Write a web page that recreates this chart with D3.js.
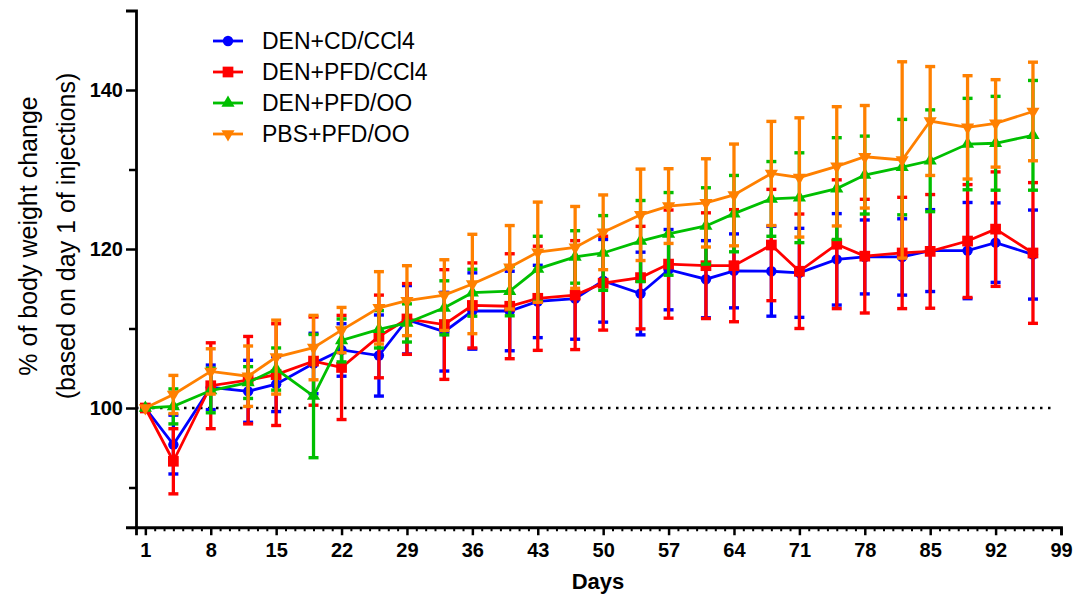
<!DOCTYPE html>
<html>
<head>
<meta charset="utf-8">
<script src="https://cdn.jsdelivr.net/npm/d3@7"></script>
<style>
  body { margin: 0; background: #fff; }
  svg { display: block; font-family: Arial, "Liberation Sans", sans-serif; }
</style>
</head>
<body>
<div id="chart"></div>
<script>
// days of measurement
const days = [1, 4, 8, 12, 15, 19, 22, 26, 29, 33, 36, 40, 43, 47, 50, 54, 57, 61, 64, 68, 71, 75, 78, 82, 85, 89, 92, 96];

const seriesNames = ["DEN+CD/CCl4", "DEN+PFD/CCl4", "DEN+PFD/OO", "PBS+PFD/OO"];
const seriesColors = ["#0000ff", "#ff0000", "#00bf00", "#ff8000"];

// mean % body weight and SD
const cdCclMean = [100, 95.4, 102.6, 102.1, 103.0, 105.6, 107.3, 106.6, 111.1, 109.6, 112.2, 112.2, 113.4, 113.75, 116.0, 114.4, 117.4, 116.2, 117.25, 117.2, 117.0, 118.7, 119.0, 119.0, 119.8, 119.8, 120.8, 119.3];
const cdCclSd   = [0, 3.7, 2.8, 3.9, 3.45, 3.8, 3.3, 5.1, 4.3, 4.95, 4.8, 5.0, 4.55, 5.1, 5.2, 5.2, 5.05, 4.85, 4.65, 5.65, 5.6, 5.75, 4.65, 4.8, 5.15, 6.05, 5.0, 5.6];

const pfdCclMean = [100, 93.3, 102.8, 103.5, 104.2, 105.9, 105.1, 109.0, 111.2, 110.5, 112.9, 112.8, 113.8, 114.2, 115.7, 116.4, 118.1, 117.9, 117.9, 120.5, 117.2, 120.6, 119.1, 119.5, 119.7, 121.0, 122.5, 119.5];
const pfdCclSd   = [0, 4.1, 5.4, 5.5, 6.4, 5.55, 6.55, 5.2, 4.45, 6.9, 5.35, 6.6, 6.55, 6.85, 5.9, 6.45, 6.8, 6.65, 7.05, 7.0, 7.2, 8.1, 7.15, 7.0, 7.15, 7.1, 7.2, 8.85];

const pfdOoMean = [100, 100.2, 102.2, 103.2, 104.9, 101.5, 108.5, 109.9, 110.7, 112.6, 114.5, 114.7, 117.5, 119.0, 119.5, 121.0, 121.9, 122.9, 124.45, 126.3, 126.45, 127.6, 129.3, 130.3, 131.1, 133.2, 133.3, 134.3];
const pfdOoSd   = [0, 2.2, 2.8, 2.0, 2.65, 7.75, 2.7, 2.35, 2.4, 3.4, 2.95, 3.1, 4.1, 3.3, 4.7, 5.1, 5.2, 4.8, 4.8, 4.7, 5.65, 6.4, 4.9, 6.0, 6.4, 5.75, 5.9, 6.9];

const pbsOoMean = [100, 101.7, 104.6, 104.0, 106.4, 107.6, 109.8, 112.6, 113.5, 114.2, 115.6, 117.7, 119.6, 120.2, 122.1, 124.3, 125.4, 125.8, 126.8, 129.5, 129.0, 130.4, 131.6, 131.2, 136.1, 135.3, 135.8, 137.3];
const pbsOoSd   = [0, 2.4, 2.85, 3.8, 4.65, 4.05, 2.85, 4.55, 4.4, 4.45, 6.25, 5.25, 6.3, 5.15, 4.7, 5.75, 4.7, 5.55, 6.4, 6.55, 7.5, 7.5, 6.45, 12.35, 6.85, 6.5, 5.5, 6.2];

const xTicks = [1, 8, 15, 22, 29, 36, 43, 50, 57, 64, 71, 78, 85, 92, 99];
const yTicks = [100, 120, 140];
const yMinorTicks = [90, 110, 130];

const series = seriesNames.map((name, i) => ({
  name,
  color: seriesColors[i],
  symbol: i,
  points: days.map((d, j) => ({
    day: d,
    mean: [cdCclMean, pfdCclMean, pfdOoMean, pbsOoMean][i][j],
    sd: [cdCclSd, pfdCclSd, pfdOoSd, pbsOoSd][i][j]
  }))
}));

const W = 1076, H = 595;
const mg = { top: 10.5, right: 15, bottom: 67.75, left: 136 };
const iw = W - mg.left - mg.right;
const ih = H - mg.top - mg.bottom;

const svg = d3.select("#chart").append("svg").attr("width", W).attr("height", H);
const g = svg.append("g").attr("transform", `translate(${mg.left},${mg.top})`);

const x = d3.scaleLinear().domain([0, 99]).range([0, iw]);
const y = d3.scaleLinear().domain([85, 150]).range([ih, 0]);

// dotted reference at 100 %
g.append("line")
  .attr("x1", x(0)).attr("x2", x(98))
  .attr("y1", y(100)).attr("y2", y(100))
  .attr("stroke", "#000").attr("stroke-width", 2.5)
  .attr("stroke-dasharray", "2.5,5.5");

function symbolPath(k) {
  if (k === 0) return d3.symbol(d3.symbolCircle, 85)();
  if (k === 1) return d3.symbol(d3.symbolSquare, 115)();
  return d3.symbol(d3.symbolTriangle, 75)();
}

const line = d3.line().x(d => x(d.day)).y(d => y(d.mean));
const capW = 5;

series.forEach(s => {
  const sg = g.append("g");
  sg.append("path").datum(s.points)
    .attr("fill", "none").attr("stroke", s.color).attr("stroke-width", 2.8)
    .attr("d", line);

  const eb = sg.selectAll(".eb").data(s.points.filter(d => d.sd > 0)).join("g");
  eb.append("line")
    .attr("x1", d => x(d.day)).attr("x2", d => x(d.day))
    .attr("y1", d => y(d.mean - d.sd)).attr("y2", d => y(d.mean + d.sd))
    .attr("stroke", s.color).attr("stroke-width", 3.3);
  [-1, 1].forEach(sign => {
    eb.append("line")
      .attr("x1", d => x(d.day) - capW).attr("x2", d => x(d.day) + capW)
      .attr("y1", d => y(d.mean + sign * d.sd)).attr("y2", d => y(d.mean + sign * d.sd))
      .attr("stroke", s.color).attr("stroke-width", 3.4);
  });

  sg.selectAll(".sym").data(s.points).join("path")
    .attr("d", symbolPath(s.symbol))
    .attr("transform", d => `translate(${x(d.day)},${y(d.mean)})` + (s.symbol === 3 ? " rotate(180)" : ""))
    .attr("fill", s.color);
});

// axes
const xAxis = g.append("g").attr("transform", `translate(0,${ih})`)
  .call(d3.axisBottom(x).tickValues(xTicks).tickSize(8).tickPadding(8).tickFormat(d3.format("d")));
const minorDays = d3.range(2, 99).filter(d => (d - 1) % 7 !== 0);
g.append("g").attr("transform", `translate(0,${ih})`)
  .call(d3.axisBottom(x).tickValues(minorDays).tickSize(4).tickFormat(""))
  .call(a => a.select(".domain").remove())
  .selectAll("line").attr("stroke-width", 2);

const yAxis = g.append("g")
  .call(d3.axisLeft(y).tickValues(yTicks).tickSize(10).tickPadding(3));
g.append("g")
  .call(d3.axisLeft(y).tickValues(yMinorTicks).tickSize(7).tickFormat(""))
  .call(a => a.select(".domain").remove())
  .selectAll("line").attr("stroke-width", 2.5);

[xAxis, yAxis].forEach(a => {
  a.select(".domain").attr("stroke", "#000").attr("stroke-width", 2.8);
  a.selectAll(".tick line").attr("stroke", "#000").attr("stroke-width", 2.5);
  a.selectAll("text").attr("fill", "#000").style("font-size", "20px").style("font-weight", "700")
    .style("font-family", "Arial, 'Liberation Sans', sans-serif");
});

// axis titles
svg.append("text").text("Days")
  .attr("x", 598).attr("y", 589).attr("text-anchor", "middle")
  .style("font-size", "22px").style("font-weight", "700");

svg.append("text").text("% of body weight change")
  .attr("transform", "translate(37,236) rotate(-90)")
  .attr("text-anchor", "middle").style("font-size", "25px");
svg.append("text").text("(based on day 1 of injections)")
  .attr("transform", "translate(75,236) rotate(-90)")
  .attr("text-anchor", "middle").style("font-size", "25px");

// legend
const legend = svg.append("g").attr("transform", "translate(213,41)");
series.forEach((s, i) => {
  const lg = legend.append("g").attr("transform", `translate(0,${i * 31})`);
  lg.append("line").attr("x1", 0).attr("x2", 30).attr("y1", 0).attr("y2", 0)
    .attr("stroke", s.color).attr("stroke-width", 2.8);
  lg.append("path").attr("d", symbolPath(s.symbol))
    .attr("transform", `translate(15,0)` + (s.symbol === 3 ? " rotate(180)" : ""))
    .attr("fill", s.color);
  lg.append("text").text(s.name)
    .attr("x", 49).attr("y", 0).attr("dy", "0.35em")
    .style("font-size", "23px").attr("fill", "#000");
});
</script>
</body>
</html>
